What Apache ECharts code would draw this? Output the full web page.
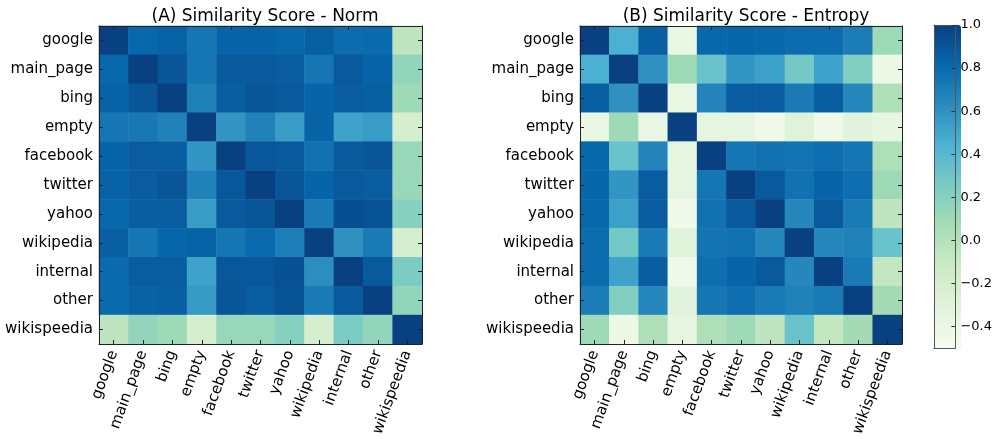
<!DOCTYPE html>
<html>
<head>
<meta charset="utf-8">
<script src="https://cdn.jsdelivr.net/npm/echarts@6/dist/echarts.min.js"></script>
<style>
  html, body { margin: 0; padding: 0; background: #fff; }
  #main { width: 995px; height: 439px; }
</style>
</head>
<body>
<div id="main"></div>
<script>
var labels = ['google', 'main_page', 'bing', 'empty', 'facebook', 'twitter', 'yahoo', 'wikipedia', 'internal', 'other', 'wikispeedia'];

// (A) Norm
var normScores = [
  [1.00, 0.81, 0.84, 0.74, 0.83, 0.83, 0.81, 0.85, 0.79, 0.80, -0.05],
  [0.81, 1.00, 0.90, 0.74, 0.88, 0.88, 0.87, 0.74, 0.88, 0.83, 0.15],
  [0.84, 0.90, 1.00, 0.69, 0.86, 0.90, 0.88, 0.83, 0.87, 0.85, 0.10],
  [0.74, 0.73, 0.68, 1.00, 0.58, 0.68, 0.55, 0.84, 0.52, 0.55, -0.20],
  [0.83, 0.87, 0.86, 0.58, 1.00, 0.89, 0.88, 0.76, 0.88, 0.90, 0.13],
  [0.84, 0.87, 0.90, 0.68, 0.89, 1.00, 0.90, 0.83, 0.88, 0.87, 0.13],
  [0.81, 0.86, 0.87, 0.55, 0.88, 0.90, 1.00, 0.72, 0.93, 0.91, 0.20],
  [0.85, 0.74, 0.82, 0.84, 0.74, 0.80, 0.70, 1.00, 0.60, 0.72, -0.20],
  [0.80, 0.87, 0.87, 0.52, 0.89, 0.89, 0.92, 0.62, 1.00, 0.88, 0.25],
  [0.80, 0.84, 0.85, 0.56, 0.90, 0.87, 0.91, 0.72, 0.88, 1.00, 0.15],
  [-0.05, 0.15, 0.10, -0.20, 0.13, 0.13, 0.20, -0.20, 0.25, 0.15, 1.00]
];

// (B) Entropy
var entropyScores = [
  [1.00, 0.45, 0.85, -0.38, 0.81, 0.82, 0.81, 0.79, 0.79, 0.71, 0.10],
  [0.45, 1.00, 0.60, 0.10, 0.32, 0.58, 0.53, 0.28, 0.52, 0.22, -0.42],
  [0.85, 0.60, 1.00, -0.38, 0.67, 0.87, 0.87, 0.72, 0.86, 0.65, 0.03],
  [-0.38, 0.10, -0.38, 1.00, -0.36, -0.36, -0.45, -0.30, -0.44, -0.32, -0.37],
  [0.81, 0.32, 0.67, -0.36, 1.00, 0.74, 0.76, 0.75, 0.78, 0.74, 0.03],
  [0.82, 0.58, 0.87, -0.36, 0.74, 1.00, 0.88, 0.76, 0.83, 0.78, 0.10],
  [0.81, 0.53, 0.87, -0.45, 0.76, 0.88, 1.00, 0.65, 0.88, 0.72, -0.05],
  [0.79, 0.28, 0.72, -0.30, 0.75, 0.76, 0.65, 1.00, 0.65, 0.68, 0.32],
  [0.79, 0.52, 0.86, -0.44, 0.78, 0.83, 0.88, 0.65, 1.00, 0.72, -0.08],
  [0.71, 0.22, 0.65, -0.32, 0.74, 0.78, 0.72, 0.68, 0.72, 1.00, 0.08],
  [0.10, -0.42, 0.03, -0.37, 0.03, 0.10, -0.05, 0.32, -0.08, 0.08, 1.00]
];

var colorbarTicks = [-0.4, -0.2, 0.0, 0.2, 0.4, 0.6, 0.8, 1.0];
var titles = ['(A) Similarity Score - Norm', '(B) Similarity Score - Entropy'];

var gnbu = ['#f7fcf0', '#e0f3db', '#ccebc5', '#a8ddb5', '#7bccc4', '#4eb3d3', '#2b8cbe', '#0868ac', '#084081'];
var font = 'DejaVu Sans';

function toCells(m) {
  var out = [];
  m.forEach(function (row, i) {
    row.forEach(function (v, j) { out.push([j, i, v]); });
  });
  return out;
}

var grids = [
  { left: 99, top: 26, width: 323, height: 323 },
  { left: 580, top: 26, width: 322, height: 323 },
  { left: 934, top: 25, width: 27, height: 323 }
];

var frameLine = { show: true, onZero: false, lineStyle: { color: '#222', width: 1 } };
var innerTick = { show: true, inside: true, length: 4, alignWithLabel: true, lineStyle: { color: '#222' } };

var xAxes = [], yAxes = [];
[0, 1].forEach(function (g) {
  xAxes.push({
    type: 'category', gridIndex: g, data: labels, position: 'bottom', z: 10,
    axisLine: frameLine, axisTick: innerTick, splitLine: { show: false },
    axisLabel: { rotate: 70, margin: 7, fontSize: 15, color: '#000', fontFamily: font, interval: 0 }
  });
  xAxes.push({
    type: 'category', gridIndex: g, data: labels, position: 'top', z: 10,
    axisLine: frameLine, axisTick: innerTick, axisLabel: { show: false }
  });
  yAxes.push({
    type: 'category', gridIndex: g, data: labels, position: 'left', inverse: true, z: 10,
    axisLine: frameLine, axisTick: innerTick, splitLine: { show: false },
    axisLabel: { margin: 6, fontSize: 15, color: '#000', fontFamily: font, interval: 0, align: 'right' }
  });
  yAxes.push({
    type: 'category', gridIndex: g, data: labels, position: 'right', inverse: true, z: 10,
    axisLine: frameLine, axisTick: innerTick, axisLabel: { show: false }
  });
});

// colorbar frame + ticks
var cbLine = { show: true, onZero: false, lineStyle: { color: '#555', width: 1 } };
var noTick = { show: false };
var noLabel = { show: false };
xAxes.push({ type: 'value', gridIndex: 2, position: 'bottom', z: 10, axisLine: cbLine, axisTick: noTick, axisLabel: noLabel, splitLine: { show: false } });
xAxes.push({ type: 'value', gridIndex: 2, position: 'top', z: 10, axisLine: cbLine, axisTick: noTick, axisLabel: noLabel, splitLine: { show: false } });
yAxes.push({ type: 'value', gridIndex: 2, position: 'left', z: 10, min: -0.5, max: 1.0, axisLine: cbLine, axisTick: noTick, axisLabel: noLabel, splitLine: { show: false } });
yAxes.push({
  type: 'value', gridIndex: 2, position: 'right', z: 10, min: -0.5, max: 1.0,
  axisLine: cbLine, splitLine: { show: false },
  axisTick: { show: true, inside: true, length: 4, customValues: colorbarTicks, lineStyle: { color: '#333' } },
  axisLabel: {
    customValues: colorbarTicks, margin: 5, fontSize: 13, color: '#000', fontFamily: font,
    formatter: function (v) { return (v < -1e-9 ? '\u2212' : '') + Math.abs(v).toFixed(1); }
  }
});

var chartDom = document.getElementById('main');
var myChart = echarts.init(chartDom, null, { renderer: 'canvas' });

var option = {
  animation: false,
  backgroundColor: '#fff',
  textStyle: { fontFamily: font },
  title: [
    { text: titles[0], left: 260, top: 3, textAlign: 'center', textStyle: { fontSize: 17, fontWeight: 'normal', color: '#000', fontFamily: font } },
    { text: titles[1], left: 741, top: 3, textAlign: 'center', textStyle: { fontSize: 17, fontWeight: 'normal', color: '#000', fontFamily: font } }
  ],
  grid: grids,
  xAxis: xAxes,
  yAxis: yAxes,
  visualMap: {
    type: 'continuous',
    min: -0.5, max: 1.0,
    seriesIndex: [0, 1],
    inRange: { color: gnbu },
    calculable: false,
    hoverLink: false,
    text: null,
    showLabel: false,
    orient: 'vertical',
    left: 934, top: 25,
    itemWidth: 27, itemHeight: 323,
    padding: 0
  },
  series: [
    { type: 'heatmap', xAxisIndex: 0, yAxisIndex: 0, data: toCells(normScores), emphasis: { disabled: true } },
    { type: 'heatmap', xAxisIndex: 2, yAxisIndex: 2, data: toCells(entropyScores), emphasis: { disabled: true } }
  ]
};

myChart.setOption(option);
window.addEventListener('resize', function () { myChart.resize(); });
</script>
</body>
</html>
